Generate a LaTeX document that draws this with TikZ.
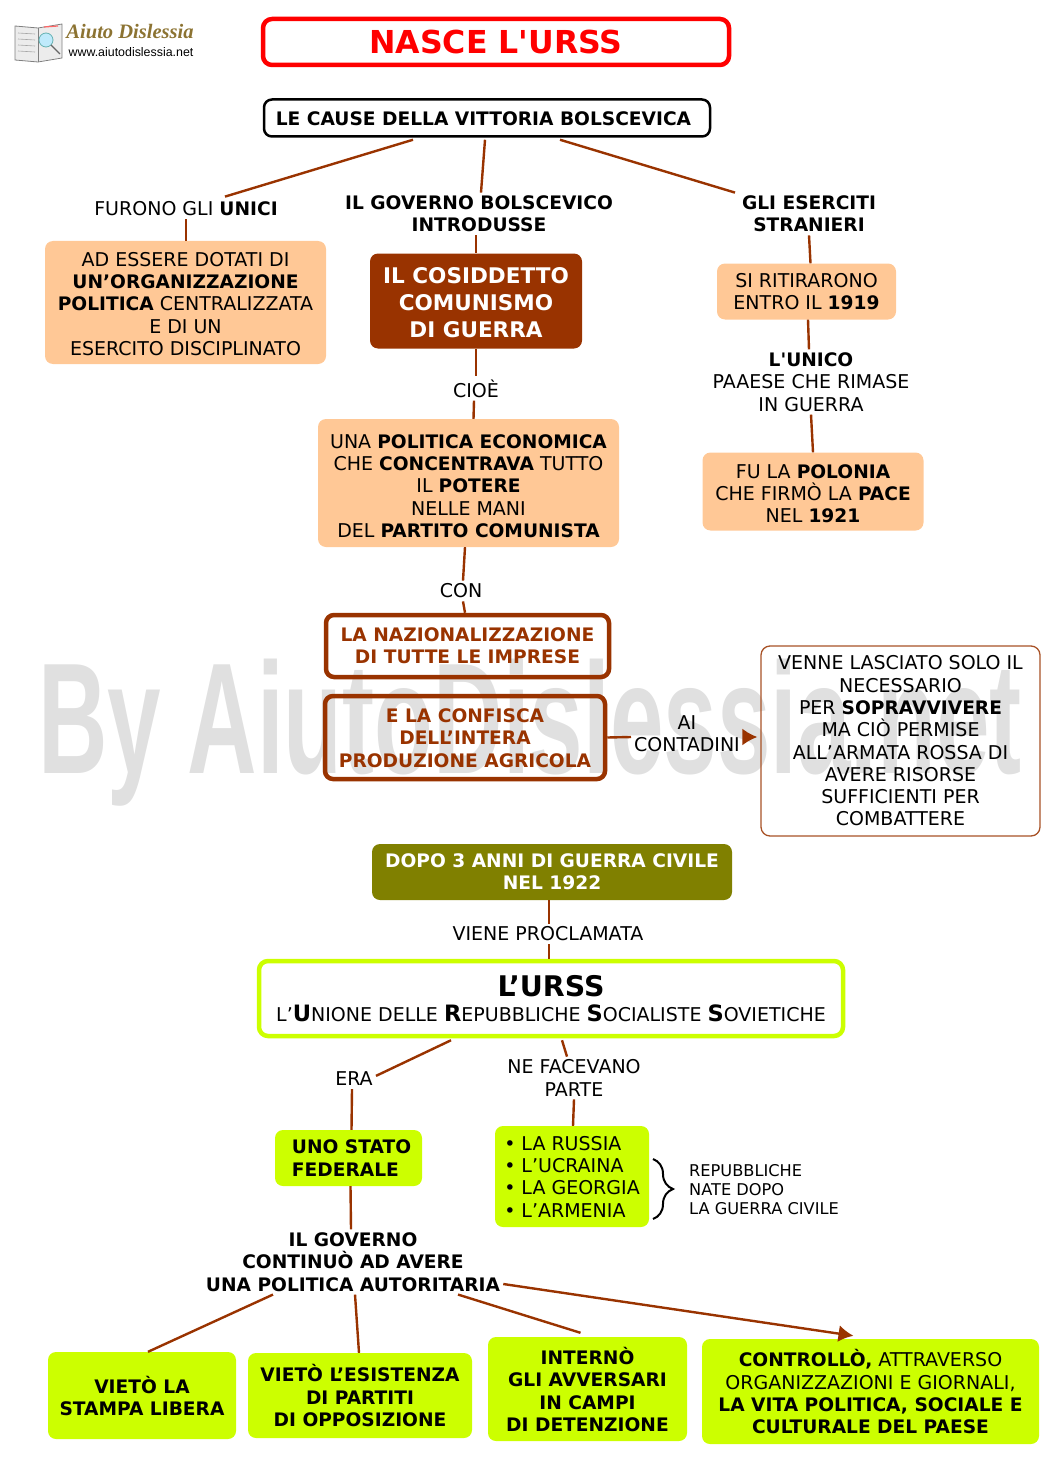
\documentclass[tikz,border=0pt]{standalone}
\usepackage{fontspec}
\setmainfont[BoldFeatures={Scale=0.98}]{DejaVu Sans}
\newfontfamily\plainfont{DejaVu Sans}
\newfontfamily\markfont{Liberation Sans}
\newfontfamily\logofont{Liberation Serif}
\usetikzlibrary{arrows.meta,decorations.pathreplacing}
\definecolor{titleRed}{RGB}{255,0,0}
\definecolor{warBrown}{RGB}{153,51,0}
\definecolor{peachBox}{RGB}{255,200,150}
\definecolor{oliveBox}{RGB}{128,128,0}
\definecolor{limeBox}{RGB}{204,255,0}
\definecolor{markGray}{RGB}{224,224,224}
\definecolor{logoGold}{RGB}{140,115,50}
\tikzset{
  body/.style={align=center, font=\fontsize{19}{22.3}\selectfont, inner sep=1pt},
  boldbody/.style={body, font=\bfseries\fontsize{19}{22.3}\selectfont},
  tag/.style={body, inner sep=3pt},
  boldtag/.style={boldbody, inner sep=3pt},
  peach/.style={body, rounded corners=8pt, fill=peachBox},
  lime/.style={rounded corners=8pt, fill=limeBox},
  brownfill/.style={body, rounded corners=8pt, fill=warBrown, text=white},
  olive/.style={boldbody, rounded corners=8pt, fill=oliveBox, text=white},
  frame/.style={boldbody, rounded corners=8pt, draw=warBrown, line width=4.5pt, text=warBrown},
  link/.style={draw=warBrown, line width=2.4pt},
  arrow/.style={link, -{Latex[length=15pt,width=17pt]}}
}
\newcommand{\urssinit}[1]{{\fontsize{23}{22}\selectfont\bfseries #1}}
\newcommand{\textdrop}[1]{\rule{0pt}{\dimexpr14pt+#1pt+#1pt\relax}}
\begin{document}
\begin{tikzpicture}[x=1pt,y=-1pt]
  \useasboundingbox (0,0) rectangle (1059,1479);

  % Watermark
  \node[font=\markfont\bfseries\fontsize{158}{158}\selectfont, text=markGray, xscale=0.609, transform shape, inner sep=0pt] (watermark) at (530,733) {By AiutoDislessia.net};

  % Logo
  \draw[gray, fill=gray!15, line width=0.8pt] (15,26) -- (38,28) -- (62,24) -- (62,58) -- (38,62) -- (15,60) -- cycle;
  \draw[gray, line width=0.8pt] (38,28) -- (38,62);
  \draw[gray!70, line width=0.6pt] (18,33) -- (35,34) (18,39) -- (35,40) (18,45) -- (35,46) (18,51) -- (35,52);
  \draw[red!60, line width=1.2pt] (44,27) -- (58,26);
  \draw[teal!60, fill=cyan!25, line width=0.8pt] (46,40) circle (7);
  \draw[gray!80!black, line width=1.4pt] (51,45) -- (60,54);
  \node[font=\logofont\bfseries\itshape\fontsize{20.5}{20}\selectfont, text=logoGold, inner sep=0pt] (logotitle) at (130,32) {Aiuto Dislessia};
  \node[font=\markfont\fontsize{12.4}{12}\selectfont, inner sep=0pt] (logourl) at (131,52) {www.aiutodislessia.net};

  % Title and causes
  \node[draw=titleRed, line width=4.5pt, rounded corners=9pt, minimum width=466pt, minimum height=46pt, text=titleRed, font=\plainfont\bfseries\fontsize{31.6}{32}\selectfont] (title) at (496,42) {NASCE L'URSS};
  \node[boldbody, draw=black, line width=2.5pt, rounded corners=8pt, minimum width=446pt, minimum height=37pt] (cause) at (487,118) {\textdrop{0.5}LE CAUSE DELLA VITTORIA BOLSCEVICA\hspace*{7pt}};

  % Left branch
  \node[tag] (furono) at (186,209) {FURONO GLI \textbf{UNICI}};
  \node[peach, minimum width=281pt, minimum height=123pt] (unici) at (185.5,302.5) {\textdrop{1.5}AD ESSERE DOTATI DI\\\textbf{UN’ORGANIZZAZIONE}\\\textbf{POLITICA} CENTRALIZZATA\\E DI UN\\ESERCITO DISCIPLINATO};

  % Middle branch
  \node[boldtag] (governo) at (479,214) {IL GOVERNO BOLSCEVICO\\INTRODUSSE};
  \node[brownfill, minimum width=212pt, minimum height=95pt, font=\bfseries\fontsize{22}{27}\selectfont] (comunismo) at (476,301) {\textdrop{2.5}IL COSIDDETTO\\COMUNISMO\\DI GUERRA};
  \node[tag] (cioe) at (476,388.5) {CIOÈ};
  \node[peach, minimum width=301pt, minimum height=128pt] (politica) at (468.5,483) {\textdrop{3}UNA \textbf{POLITICA ECONOMICA}\\CHE \textbf{CONCENTRAVA} TUTTO\\IL \textbf{POTERE}\\NELLE MANI\\DEL \textbf{PARTITO COMUNISTA}};
  \node[tag] (con) at (461,591) {CON};
  \node[frame, minimum width=283pt, minimum height=62pt] (nazional) at (467.5,646) {LA NAZIONALIZZAZIONE\\DI TUTTE LE IMPRESE};
  \node[frame, minimum width=280pt, minimum height=83pt] (confisca) at (465,737.5) {\textdrop{0.5}E LA CONFISCA\\DELL’INTERA\\PRODUZIONE AGRICOLA};
  \node[tag] (contadini) at (687,734) {AI\\CONTADINI};
  \node[body, draw=warBrown!85, line width=1.3pt, rounded corners=9pt, minimum width=279pt, minimum height=190pt] (venne) at (900.5,741) {VENNE LASCIATO SOLO IL\\NECESSARIO\\PER \textbf{SOPRAVVIVERE}\\MA CIÒ PERMISE\\ALL’ARMATA ROSSA DI\\AVERE RISORSE\\SUFFICIENTI PER\\COMBATTERE};

  % Right branch
  \node[boldtag] (eserciti) at (809,214) {GLI ESERCITI\\STRANIERI};
  \node[peach, minimum width=179pt, minimum height=56pt] (ritiro) at (806.5,291.5) {SI RITIRARONO\\ENTRO IL \textbf{1919}};
  \node[tag] (unico) at (811,382) {{\plainfont\bfseries\fontsize{18.6}{22.3}\selectfont L'UNICO}\\PAAESE CHE RIMASE\\IN GUERRA};
  \node[peach, minimum width=221pt, minimum height=78pt] (polonia) at (813,491.5) {\textdrop{2}FU LA \textbf{POLONIA}\\CHE FIRMÒ LA \textbf{PACE}\\NEL \textbf{1921}};

  % Second part
  \node[olive, minimum width=360pt, minimum height=56pt] (dopo) at (552,872) {DOPO 3 ANNI DI GUERRA CIVILE\\NEL 1922};
  \node[tag] (viene) at (548,934) {VIENE PROCLAMATA};
  \node[body, draw=limeBox, line width=4.5pt, rounded corners=9pt, minimum width=584pt, minimum height=75pt] (urss) at (551,998.5) {{\fontsize{29}{31}\selectfont\bfseries L’URSS}\\[2pt]L’\urssinit{U}NIONE DELLE \urssinit{R}EPUBBLICHE \urssinit{S}OCIALISTE \urssinit{S}OVIETICHE};
  \node[tag] (era) at (354,1079) {ERA};
  \node[lime, boldbody, minimum width=147pt, minimum height=56pt, align=left] (stato) at (348.5,1158) {\hspace*{6pt}UNO STATO\\\hspace*{6pt}FEDERALE};
  \node[tag] (parte) at (574,1078) {NE FACEVANO\\PARTE};
  \node[lime, body, minimum width=154pt, minimum height=101pt, align=left] (lista) at (572,1176.5) {• LA RUSSIA\\• L’UCRAINA\\• LA GEORGIA\\• L’ARMENIA};
  \coordinate (bracetop) at (653,1159);
  \coordinate (bracebot) at (653,1219);
  \draw[line width=2pt, decorate, decoration={brace, amplitude=20pt, aspect=0.5}] (bracetop) -- (bracebot);
  \node[body, align=left, font=\fontsize{16.2}{19}\selectfont] (repubbliche) at (764,1190) {REPUBBLICHE\\NATE DOPO\\LA GUERRA CIVILE};

  % Bottom row
  \node[boldtag] (autoritaria) at (353,1262) {IL GOVERNO\\CONTINUÒ AD AVERE\\UNA POLITICA AUTORITARIA};
  \node[lime, boldbody, minimum width=188pt, minimum height=87pt] (stampa) at (142,1395.5) {\textdrop{2}VIETÒ LA\\STAMPA LIBERA};
  \node[lime, boldbody, minimum width=224pt, minimum height=85pt] (partiti) at (360,1395.5) {\textdrop{1}VIETÒ L’ESISTENZA\\DI PARTITI\\DI OPPOSIZIONE};
  \node[lime, boldbody, minimum width=199pt, minimum height=104pt] (campi) at (587.5,1389) {\textdrop{2}INTERNÒ\\GLI AVVERSARI\\IN CAMPI\\DI DETENZIONE};
  \node[lime, body, minimum width=337pt, minimum height=105pt] (controllo) at (870.5,1391.5) {\textdrop{2}\textbf{CONTROLLÒ,} ATTRAVERSO\\ORGANIZZAZIONI E GIORNALI,\\\textbf{LA VITA POLITICA, SOCIALE E}\\\textbf{CULTURALE DEL PAESE}};

  % Connectors of the upper part
  \draw[link] ([xshift=-74pt,yshift=-2pt]cause.south) -- ([xshift=39pt,yshift=2pt]furono.north);
  \draw[link] ([xshift=-2pt,yshift=-2pt]cause.south) -- ([xshift=2pt]governo.north);
  \draw[link] ([xshift=73pt,yshift=-2pt]cause.south) -- ([xshift=-74pt]eserciti.north);
  \draw[link] (furono.south) -- ([xshift=0.5pt]unici.north);
  \draw[link] ([xshift=-3pt]governo.south) -- (comunismo.north);
  \draw[link] (comunismo.south) -- (cioe.north);
  \draw[link] ([xshift=-2pt]cioe.south) -- ([xshift=5pt]politica.north);
  \draw[link] ([xshift=-3.5pt]politica.south) -- ([xshift=2pt]con.north);
  \draw[link] ([xshift=2pt]con.south) -- ([xshift=-2.5pt]nazional.north);
  \draw[link] (eserciti.south) -- ([xshift=4pt]ritiro.north);
  \draw[link] ([xshift=1.5pt]ritiro.south) -- ([xshift=-2pt]unico.north);
  \draw[link] (unico.south) -- (polonia.north);
  \draw[link] (confisca.east) -- ([yshift=-3pt]contadini.west);
  \draw[arrow] ([yshift=-3pt]contadini.east) -- ([xshift=-3pt,yshift=-3pt]venne.west |- contadini.east);

  % Connectors of the lower part
  \draw[link] ([xshift=-3pt]dopo.south) -- ([xshift=1pt]viene.north);
  \draw[link] ([xshift=1pt]viene.south) -- ([xshift=-2pt]urss.north);
  \draw[link] ([xshift=-100pt,yshift=-2pt]urss.south) -- ([xshift=22pt,yshift=-7pt]era.north);
  \draw[link] ([xshift=-2pt]era.south) -- ([xshift=3pt]stato.north);
  \draw[link] ([xshift=11pt,yshift=-2pt]urss.south) -- ([xshift=-7pt]parte.north);
  \draw[link] (parte.south) -- ([xshift=1pt]lista.north);
  \draw[link] ([xshift=2pt]stato.south) -- ([xshift=-2pt]autoritaria.north);
  \draw[link] ([xshift=-80pt]autoritaria.south) -- ([xshift=6pt]stampa.north);
  \draw[link] ([xshift=2pt]autoritaria.south) -- ([xshift=-1pt]partiti.north);
  \draw[link] ([xshift=105pt]autoritaria.south) -- ([xshift=-7pt,yshift=4pt]campi.north);
  \draw[arrow] ([yshift=-22pt]autoritaria.east) -- ([xshift=-17pt,yshift=3pt]controllo.north);
\end{tikzpicture}
\end{document}
